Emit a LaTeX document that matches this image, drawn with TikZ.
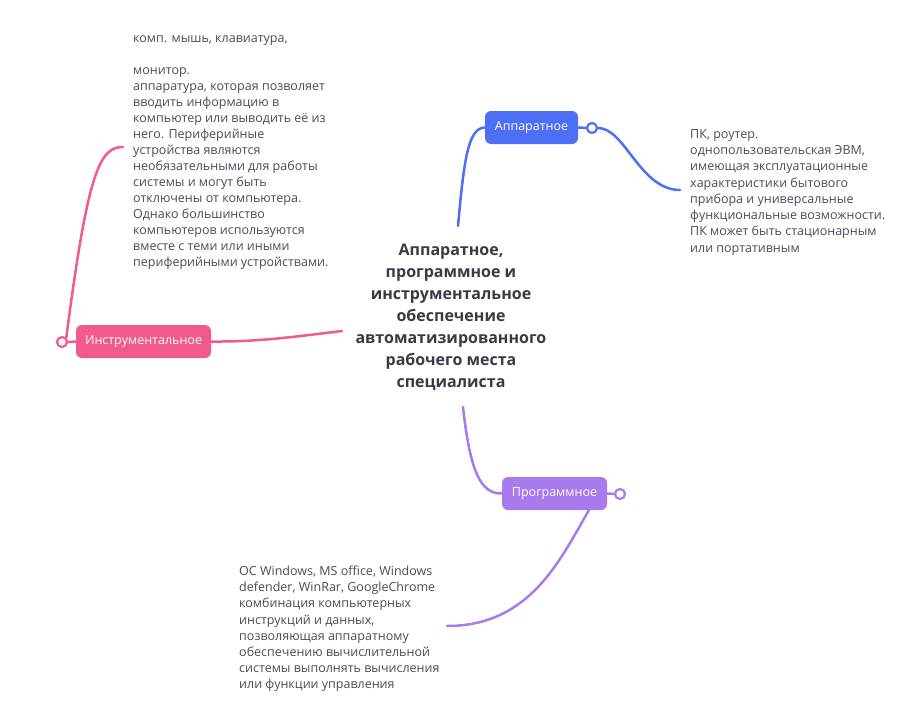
\documentclass[tikz,border=0pt]{standalone}
\usepackage{fontspec}
\setmainfont{Open Sans}
\newfontfamily\titlefont{Open Sans}
\definecolor{cblue}{HTML}{4D6EF5}
\definecolor{cpink}{HTML}{F25A8C}
\definecolor{cpurple}{HTML}{A77BEE}
\definecolor{ctext}{HTML}{4A4A5A}
\definecolor{ctitle}{HTML}{3A3A44}
\tikzset{
  branchbox/.style={rounded corners=6pt, minimum height=33pt, inner xsep=9pt, text=white, font=\fontsize{12.5}{15}\selectfont},
  leaftext/.style={align=left, anchor=north west, inner sep=0pt, text=ctext, font=\fontsize{12.5}{16.3}\selectfont},
  link/.style={line width=2.5pt, line cap=round},
  knob/.style={circle, draw, line width=2.2pt, fill=white, minimum size=10pt, inner sep=0pt}
}
\begin{document}
\begin{tikzpicture}[x=1pt,y=-1pt]
\useasboundingbox (0,0) rectangle (922,720);
% central topic
\node[align=center, text=ctitle, font=\titlefont\bfseries\fontsize{16}{22}\selectfont, inner sep=0pt] (center) at (451,317)
  {Аппаратное,\\программное и\\инструментальное\\обеспечение\\автоматизированного\\рабочего места\\специалиста};
\coordinate (ctop) at (458,226);
\coordinate (cleft) at (342,331);
\coordinate (cbot) at (463,407);

% branches
\node[branchbox, fill=cblue, minimum width=93pt] (app) at (531.5,127.5) {Аппаратное};
\node[branchbox, fill=cpink, minimum width=135pt] (instr) at (143.5,341.5) {Инструментальное};
\node[branchbox, fill=cpurple, minimum width=105pt] (prog) at (554.5,493.5) {Программное};

% leaves
\node[leaftext] (appleaf) at (690,129)
  {ПК, роутер.\\однопользовательская ЭВМ,\\имеющая эксплуатационные\\характеристики бытового\\прибора и универсальные\\функциональные возможности.\\ПК может быть стационарным\\или портативным};
\node[leaftext, font=\fontsize{12.5}{16}\selectfont] (instrleaf) at (133,35.5)
  {комп. мышь, клавиатура,\\[16pt]монитор.\\аппаратура, которая позволяет\\вводить информацию в\\компьютер или выводить её из\\него. Периферийные\\устройства являются\\необязательными для работы\\системы и могут быть\\отключены от компьютера.\\Однако большинство\\компьютеров используются\\вместе с теми или иными\\периферийными устройствами.};
\node[leaftext, font=\fontsize{12.5}{16.1}\selectfont] (progleaf) at (239,566)
  {ОС Windows, MS office, Windows\\defender, WinRar, GoogleChrome\\комбинация компьютерных\\инструкций и данных,\\позволяющая аппаратному\\обеспечению вычислительной\\системы выполнять вычисления\\или функции управления};

% connector ends
\coordinate (append) at (680,190);
\coordinate (instrend) at (123,147);
\coordinate (progend) at (447,626);

% blue
\draw[link, cblue] (ctop) .. controls (464,160) and (468,128) .. (app.west);
\draw[link, cblue] (app.east) -- (587,128);
\node[knob, draw=cblue] (appknob) at (592,128) {};
\draw[link, cblue] (appknob.east) .. controls (625,128) and (640,190) .. (append);

% pink
\draw[link, cpink] (instr.east) .. controls (260,342) and (300,336) .. (cleft);
\draw[link, cpink] (instr.west) -- (67,342);
\node[knob, draw=cpink] (instrknob) at (62,342) {};
\draw[link, cpink] (instrknob.north east) .. controls (88,170) and (100,147) .. (instrend);

% purple
\draw[link, cpurple] (cbot) .. controls (470,470) and (480,494) .. (prog.west);
\draw[link, cpurple] (prog.east) -- (615,494);
\node[knob, draw=cpurple] (progknob) at (620,494) {};
\draw[link, cpurple] (589,510) .. controls (560,560) and (530,626) .. (progend);
\end{tikzpicture}
\end{document}
